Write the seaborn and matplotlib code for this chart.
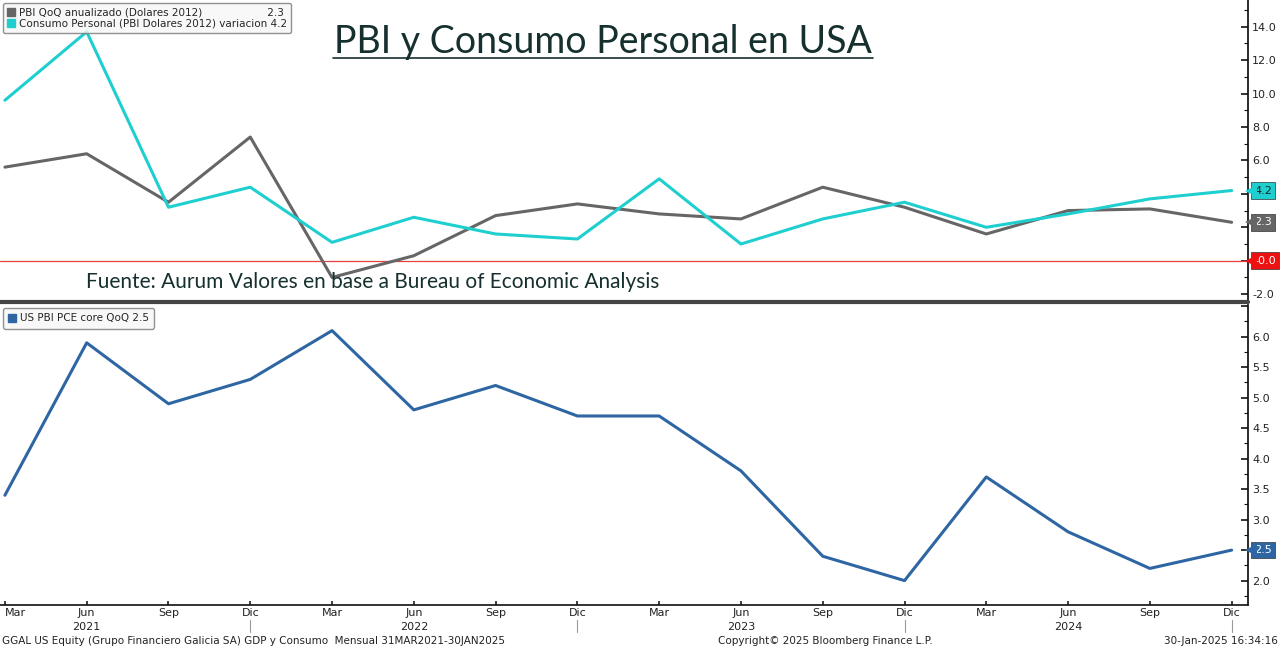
import numpy as np
import pandas as pd
import matplotlib.pyplot as plt
import seaborn as sns
from matplotlib.ticker import MultipleLocator
from matplotlib.transforms import offset_copy

sns.set_theme(style="white")
plt.rcParams['font.family'] = ['DejaVu Sans']

quarters = ["Mar", "Jun", "Sep", "Dic"] * 4
years = ["2021", "2022", "2023", "2024"]

pbi = [5.6, 6.4, 3.5, 7.4, -1.0, 0.3, 2.7, 3.4, 2.8, 2.5, 4.4, 3.2, 1.6, 3.0, 3.1, 2.3]
consumo = [9.6, 13.7, 3.2, 4.4, 1.1, 2.6, 1.6, 1.3, 4.9, 1.0, 2.5, 3.5, 2.0, 2.8, 3.7, 4.2]
pce_core = [3.4, 5.9, 4.9, 5.3, 6.1, 4.8, 5.2, 4.7, 4.7, 3.8, 2.4, 2.0, 3.7, 2.8, 2.2, 2.5]

df = pd.DataFrame({"q": np.arange(len(pbi)), "pbi": pbi, "consumo": consumo, "pce": pce_core})

c_pbi = "#666666"
c_cons = "#1fcfd0"
c_pce = "#2e66a3"
tick_col = "#222222"

fig = plt.figure(figsize=(12.8, 6.48), dpi=100)
W, H = 1280, 648
ax1 = fig.add_axes([0, (H - 300) / H, 1248 / W, 300 / H])
ax2 = fig.add_axes([0, (H - 605) / H, 1248 / W, 300 / H])

sns.lineplot(data=df, x="q", y="pbi", ax=ax1, color=c_pbi, lw=2.2)
sns.lineplot(data=df, x="q", y="consumo", ax=ax1, color=c_cons, lw=2.2)
ax1.axhline(0, color="#e84040", lw=0.9, zorder=1)
sns.lineplot(data=df, x="q", y="pce", ax=ax2, color=c_pce, lw=2.2)

for ax in (ax1, ax2):
    ax.set_xlim(-0.06, 15.2)
    ax.set_xlabel("")
    ax.set_ylabel("")
    ax.yaxis.tick_right()
    for s in ("top", "left"):
        ax.spines[s].set_visible(False)
    ax.spines["right"].set_color("#111111")
    ax.spines["bottom"].set_color("#111111")
    ax.tick_params(axis="y", which="major", direction="in", length=5, width=1.2,
                   labelsize=8, labelcolor=tick_col, color="#111111", pad=3, right=True)
    ax.tick_params(axis="y", which="minor", direction="in", length=3, width=0.8,
                   color="#111111", right=True)

# labels hidden behind the value tags are left blank
ax1.set_ylim(-2.35, 15.6)
ax1.yaxis.set_major_locator(MultipleLocator(2))
ax1.yaxis.set_minor_locator(MultipleLocator(1))
ax1.yaxis.set_major_formatter(lambda v, p: "" if -0.5 < v < 4.5 else f"{v:.1f}")
ax1.set_xticks([])
ax1.spines["bottom"].set_visible(False)

ax2.set_ylim(1.6, 6.52)
ax2.yaxis.set_major_locator(MultipleLocator(0.5))
ax2.yaxis.set_minor_locator(MultipleLocator(0.25))
ax2.yaxis.set_major_formatter(lambda v, p: "" if (v > 6.3 or abs(v - 2.5) < 0.1) else f"{v:.1f}")
ax2.set_xticks(df["q"])
ax2.set_xticklabels(quarters)
ax2.tick_params(axis="x", direction="in", length=3, labelsize=8, labelcolor=tick_col, pad=2, bottom=True)
ax2.get_xticklabels()[0].set_ha("left")
ax2.spines["bottom"].set_linewidth(1.2)

# year labels and separators below the x axis
for i, yr in enumerate(years):
    ax2.annotate(yr, xy=(1 + 4 * i, 0), xycoords=("data", "axes fraction"),
                 xytext=(0, -16), textcoords="offset points", ha="center", va="center",
                 fontsize=8, color=tick_col, annotation_clip=False)
    ax2.plot([3 + 4 * i] * 2, [-0.05, -0.09], transform=ax2.get_xaxis_transform(),
             color="#999999", lw=0.8, clip_on=False)

# right side value tags
def tag(ax, v, color, txtcol="white", text=None):
    tr = offset_copy(ax.get_yaxis_transform(), fig=fig, x=3, y=0, units="dots")
    ax.plot([1.0], [v], marker="<", ms=9, color=color, mew=0,
            transform=tr, clip_on=False, zorder=11)
    ax.annotate(text or f"{v:.1f}", xy=(1.0, v), xycoords=("axes fraction", "data"),
                xytext=(4.5, 0), textcoords="offset points", ha="left", va="center",
                fontsize=8, color=txtcol, zorder=10, annotation_clip=False,
                bbox=dict(boxstyle="square,pad=0.3", fc=color, ec="#333333", lw=0.5))

tag(ax1, 4.2, c_cons, txtcol="#0a2a2a")
tag(ax1, 2.3, c_pbi)
tag(ax1, 0.0, "#ee1111", text="-0.0")
tag(ax2, 2.5, c_pce)

# legends
leg1 = "PBI QoQ anualizado (Dolares 2012)                    2.3"
leg2 = "Consumo Personal (PBI Dolares 2012) variacion 4.2"
h1 = plt.Line2D([], [], marker="s", ls="", color=c_pbi, markersize=6)
h2 = plt.Line2D([], [], marker="s", ls="", color=c_cons, markersize=6)
l = ax1.legend([h1, h2], [leg1, leg2], loc="upper left", bbox_to_anchor=(0.0, 1.0),
               fontsize=7.5, frameon=True, handlelength=0.8, handletextpad=0.3,
               borderpad=0.4, labelspacing=0.15, fancybox=True, borderaxespad=0.3)
l.get_frame().set_edgecolor("#777777")
l.get_frame().set_facecolor("#f7f7f7")
h3 = plt.Line2D([], [], marker="s", ls="", color=c_pce, markersize=6)
l2 = ax2.legend([h3], ["US PBI PCE core QoQ 2.5"], loc="upper left", bbox_to_anchor=(0.0, 1.0),
                fontsize=7.5, frameon=True, handlelength=0.8, handletextpad=0.3,
                borderpad=0.5, fancybox=True, borderaxespad=0.3)
l2.get_frame().set_edgecolor("#777777")
l2.get_frame().set_facecolor("#f7f7f7")

# separator between panels
fig.add_artist(plt.Line2D([0, 1248 / W], [(H - 302) / H] * 2, color="#444444", lw=3))

# title and source
title_col = "#15302e"
fig.text(603 / W, 1 - 42 / H, "PBI y Consumo Personal en USA", ha="center", va="center",
         fontsize=27, color=title_col, family=["Lato", "DejaVu Sans"])
fig.add_artist(plt.Line2D([333 / W, 873 / W], [1 - 58 / H] * 2, color=title_col, lw=1.2))
fig.text(86 / W, 1 - 282 / H, "Fuente: Aurum Valores en base a Bureau of Economic Analysis",
         ha="left", va="center", fontsize=15, color=title_col, family=["Lato", "DejaVu Sans"])

# footer
fig.text(2 / W, 1 - 641 / H, "GGAL US Equity (Grupo Financiero Galicia SA) GDP y Consumo  Mensual 31MAR2021-30JAN2025",
         ha="left", va="center", fontsize=7.5, color=tick_col)
fig.text(718 / W, 1 - 641 / H, "Copyright\u00a9 2025 Bloomberg Finance L.P.", ha="left", va="center",
         fontsize=7.5, color=tick_col)
fig.text(1278 / W, 1 - 641 / H, "30-Jan-2025 16:34:16", ha="right", va="center",
         fontsize=7.5, color=tick_col)

plt.savefig("out.png", dpi=100)
